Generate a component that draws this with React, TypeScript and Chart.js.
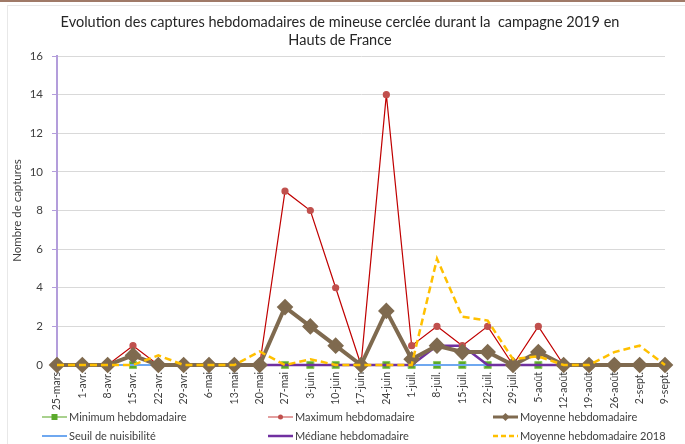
import React, { useEffect, useRef } from "react";
import { Chart, registerables } from "chart.js";

Chart.register(...registerables);

const categories = [
  "25-mars", "1-avr.", "8-avr.", "15-avr.", "22-avr.", "29-avr.", "6-mai", "13-mai",
  "20-mai", "27-mai", "3-juin", "10-juin", "17-juin", "24-juin", "1-juil.", "8-juil.",
  "15-juil.", "22-juil.", "29-juil.", "5-août", "12-août", "19-août", "26-août", "2-sept.", "9-sept.",
];

const minimumHebdo = [0, 0, 0, 0, 0, 0, 0, 0, 0, 0, 0, 0, 0, 0, 0, 0, 0, 0, 0, 0, 0, 0, 0, 0, 0];
const maximumHebdo = [0, 0, 0, 1, 0, 0, 0, 0, 0, 9, 8, 4, 0, 14, 1, 2, 1, 2, 0, 2, 0, 0, 0, 0, 0];
const moyenneHebdo = [0, 0, 0, 0.5, 0, 0, 0, 0, 0, 3, 2, 1, 0, 2.8, 0.3, 1, 0.67, 0.67, 0, 0.67, 0, 0, 0, 0, 0];
const seuilNuisibilite = [0, 0, 0, 0, 0, 0, 0, 0, 0, 0, 0, 0, 0, 0, 0, 0, 0, 0, 0, 0, 0, 0, 0, 0, 0];
const medianeHebdo = [0, 0, 0, 0.5, 0, 0, 0, 0, 0, 0, 0, 0, 0, 0, 0, 1, 1, 0, 0, 0, 0, 0, 0, 0, 0];
const moyenne2018 = [0, 0, 0, 0, 0.5, 0, 0, 0, 0.7, 0, 0.3, 0, 0, 0, 0, 5.5, 2.5, 2.3, 0.3, 0.45, 0, 0, 0.67, 1, 0];

const yTicks = [0, 2, 4, 6, 8, 10, 12, 14, 16];

const titleLines = [
  "Evolution des captures hebdomadaires de mineuse cerclée durant la  campagne 2019 en",
  "Hauts de France",
];
const yAxisTitle = "Nombre de captures";

const FONT = "Lato, 'Open Sans', sans-serif";
const TEXT = "#404040";

type LegendItem = { idx: number; col: number; row: number };
const legendLayout: LegendItem[] = [
  { idx: 0, col: 0, row: 0 },
  { idx: 1, col: 1, row: 0 },
  { idx: 2, col: 2, row: 0 },
  { idx: 3, col: 0, row: 1 },
  { idx: 4, col: 1, row: 1 },
  { idx: 5, col: 2, row: 1 },
];
const legendCols = [42, 268, 493];
const legendRows = [417, 436];

const titlePlugin = {
  id: "customTitle",
  afterDraw(chart: any) {
    const ctx = chart.ctx;
    ctx.save();
    ctx.fillStyle = "#262626";
    ctx.font = `14.5px ${FONT}`;
    ctx.textAlign = "center";
    ctx.textBaseline = "middle";
    const cx = 340;
    const ys = [22, 40];
    titleLines.forEach((t, i) => ctx.fillText(t, cx, ys[i]));
    ctx.restore();
  },
};

const legendPlugin = {
  id: "customLegend",
  afterDraw(chart: any) {
    const ctx = chart.ctx;
    ctx.save();
    legendLayout.forEach((it) => {
      const ds = chart.data.datasets[it.idx];
      const x0 = legendCols[it.col];
      const y = legendRows[it.row];
      const len = 25;
      ctx.beginPath();
      ctx.strokeStyle = ds.legendColor || ds.borderColor;
      ctx.lineWidth = Math.min(ds.borderWidth, 3);
      ctx.setLineDash(ds.borderDash ? [5, 3] : []);
      ctx.moveTo(x0, y);
      ctx.lineTo(x0 + len, y);
      ctx.stroke();
      ctx.setLineDash([]);
      const cx = x0 + len / 2;
      if (ds.pointRadius > 0) {
        ctx.fillStyle = ds.pointBackgroundColor;
        const r = 3;
        if (ds.pointStyle === "rect") {
          ctx.fillRect(cx - r, y - r, 2 * r, 2 * r);
        } else if (ds.pointStyle === "rectRot") {
          ctx.beginPath();
          ctx.moveTo(cx, y - r - 1);
          ctx.lineTo(cx + r + 1, y);
          ctx.lineTo(cx, y + r + 1);
          ctx.lineTo(cx - r - 1, y);
          ctx.closePath();
          ctx.fill();
        } else {
          ctx.beginPath();
          ctx.arc(cx, y, 2.5, 0, Math.PI * 2);
          ctx.fill();
        }
      }
      ctx.fillStyle = TEXT;
      ctx.font = `11px ${FONT}`;
      ctx.textAlign = "left";
      ctx.textBaseline = "middle";
      ctx.fillText(ds.label, x0 + len + 2, y);
    });
    ctx.restore();
  },
};

export default function App() {
  const ref = useRef<HTMLCanvasElement | null>(null);

  useEffect(() => {
    document.body.style.margin = "0";
    if (!ref.current) return;
    const chart = new Chart(ref.current, {
      type: "line",
      data: {
        labels: categories,
        datasets: [
          {
            label: "Minimum hebdomadaire",
            data: minimumHebdo,
            borderColor: "#A9D18E",
            borderWidth: 2,
            pointStyle: "rect",
            pointRadius: 5,
            pointBackgroundColor: "#5AAA2B",
            pointBorderColor: "#8CC860",
            pointBorderWidth: 1,
            order: 6,
            clip: false,
          } as any,
          {
            label: "Maximum hebdomadaire",
            data: maximumHebdo,
            borderColor: "#C00000",
            legendColor: "#D06060",
            borderWidth: 1.2,
            pointStyle: "circle",
            pointRadius: 3,
            pointBackgroundColor: "#C0504D",
            pointBorderColor: "#C0504D",
            order: 3,
            clip: false,
          },
          {
            label: "Moyenne hebdomadaire",
            data: moyenneHebdo,
            borderColor: "#7F6A4F",
            borderWidth: 4,
            pointStyle: "rectRot",
            pointRadius: 5.5,
            pointBackgroundColor: "#7F6A4F",
            pointBorderColor: "#7F6A4F",
            order: 2,
            clip: false,
          },
          {
            label: "Seuil de nuisibilité",
            data: seuilNuisibilite,
            borderColor: "#6FA8F0",
            borderWidth: 2,
            pointRadius: 0,
            order: 5,
            clip: false,
          },
          {
            label: "Médiane hebdomadaire",
            data: medianeHebdo,
            borderColor: "#7030A0",
            borderWidth: 2.5,
            pointRadius: 0,
            order: 4,
            clip: false,
          },
          {
            label: "Moyenne hebdomadaire 2018",
            data: moyenne2018,
            borderColor: "#FFC000",
            borderWidth: 2.5,
            borderDash: [7, 4],
            pointRadius: 0,
            order: 1,
            clip: false,
          } as any,
        ],
      },
      options: {
        animation: false,
        responsive: false,
        devicePixelRatio: 1,
        layout: { padding: { left: 0, right: 20, top: 56, bottom: 33 } },
        elements: { line: { tension: 0 } },
        plugins: {
          legend: { display: false },
          tooltip: { enabled: false },
          title: { display: false },
        },
        scales: {
          x: {
            offset: false,
            grid: { display: false, drawTicks: false },
            border: { display: false },
            ticks: {
              minRotation: 90,
              maxRotation: 90,
              autoSkip: false,
              color: TEXT,
              padding: 7,
              font: { family: FONT, size: 10.5 },
            },
            afterFit: (s: any) => {
              s.height = 46;
            },
          },
          y: {
            min: 0,
            max: 16,
            afterBuildTicks: (s: any) => {
              s.ticks = yTicks.map((v) => ({ value: v }));
            },
            grid: { color: "#D9D9D9", lineWidth: 1, tickLength: 5, tickColor: "#B39DDB" },
            border: { display: true, color: "#B39DDB", width: 2 },
            ticks: { color: TEXT, padding: 9, font: { family: FONT, size: 11.5 } },
            title: {
              display: true,
              text: yAxisTitle,
              color: TEXT,
              padding: { top: 10, bottom: 0 },
              font: { family: FONT, size: 11.5 },
            },
            afterFit: (s: any) => {
              s.width = 57;
            },
          },
        },
      },
      plugins: [titlePlugin, legendPlugin],
    });
    return () => chart.destroy();
  }, []);

  return (
    <div style={{ position: "relative", width: 685, height: 444, background: "#fff" }}>
      <div style={{ position: "absolute", left: 0, top: 0, width: 685, height: 2, background: "#A07A68" }} />
      <div
        style={{
          position: "absolute",
          left: 7,
          top: 5,
          width: 678,
          height: 439,
          borderLeft: "1px solid #E8E8E8",
          borderTop: "1px solid #E8E8E8",
        }}
      />
      <canvas ref={ref} width={685} height={444} style={{ position: "absolute", left: 0, top: 0, display: "block" }} />
    </div>
  );
}
